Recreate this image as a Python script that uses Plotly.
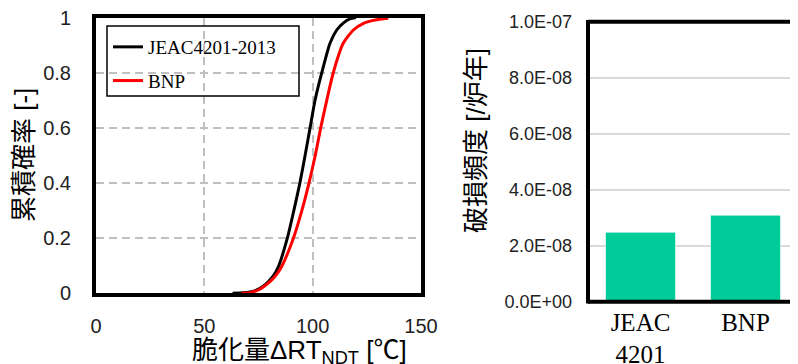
import plotly.graph_objects as go

# ---- data ----
jeac_x = [63, 68, 71, 74.2, 77, 79.5, 82, 84.2, 88.3, 91.3, 94.1, 96.5, 98.8, 101.1, 104.2, 108, 111.1, 114.1, 117.2, 120]
jeac_y = [0, 0.002, 0.005, 0.012, 0.025, 0.042, 0.065, 0.097, 0.2, 0.3, 0.4, 0.5, 0.6, 0.7, 0.8, 0.907, 0.955, 0.98, 0.995, 1.0]

bnp_x = [67.2, 71, 74.9, 77.5, 80.3, 83, 85.7, 91.1, 95.0, 98.3, 101.2, 103.7, 106.5, 109.5, 114.1, 118.8, 123.7, 128, 131.5, 134.9]
bnp_y = [0, 0.002, 0.012, 0.025, 0.042, 0.065, 0.097, 0.2, 0.3, 0.4, 0.5, 0.6, 0.7, 0.8, 0.907, 0.955, 0.98, 0.99, 0.995, 0.998]

series_names = ["JEAC4201-2013", "BNP"]

bar_categories = ["JEAC<br>4201", "BNP"]
bar_values = [2.48e-8, 3.09e-8]

left_x_ticks = [0, 50, 100, 150]
left_y_ticks = [0, 0.2, 0.4, 0.6, 0.8, 1]
left_y_ticktext = ["0", "0.2", "0.4", "0.6", "0.8", "1"]
right_y_ticks = [0, 2e-8, 4e-8, 6e-8, 8e-8, 1e-7]
right_y_ticktext = ["0.0E+00", "2.0E-08", "4.0E-08", "6.0E-08", "8.0E-08", "1.0E-07"]

SANS = "Liberation Sans, Arial, sans-serif"
SERIF = "Liberation Serif, Times New Roman, serif"
CJK = "Liberation Sans, Noto Sans CJK JP, sans-serif"

# page body has an 8px margin: figure is placed at (8, 8) in the window
OX, OY = 8, 8
W, H = 798 - OX, 364 - OY


def px(x):
    return (x - OX) / W


def py(y):
    return (364 - y) / H


fig = go.Figure()
fig.add_trace(go.Scatter(x=jeac_x, y=jeac_y, mode="lines", name=series_names[0],
                         line=dict(color="#000000", width=3, shape="spline", smoothing=0.6),
                         xaxis="x", yaxis="y", legendgroup="a"))
fig.add_trace(go.Scatter(x=bnp_x, y=bnp_y, mode="lines", name=series_names[1],
                         line=dict(color="#ff0000", width=3, shape="spline", smoothing=0.6),
                         xaxis="x", yaxis="y", legendgroup="b"))
fig.add_trace(go.Bar(x=bar_categories, y=bar_values,
                     marker=dict(color="#00CC99", line=dict(color="rgba(255,255,255,0.6)", width=1)),
                     xaxis="x2", yaxis="y2", showlegend=False, width=0.667))

fig.update_layout(
    width=W, height=H,
    margin=dict(l=0, r=0, t=0, b=0, autoexpand=False),
    paper_bgcolor="white", plot_bgcolor="white",
    showlegend=True,
    legend=dict(x=px(108), y=py(28), xanchor="left", yanchor="top",
                font=dict(family=SERIF, size=19, color="#000"),
                bgcolor="rgba(0,0,0,0)", borderwidth=0, tracegroupgap=6),
    xaxis=dict(domain=[px(96), px(421)], range=[0, 150], tickvals=left_x_ticks,
               showgrid=True, gridcolor="#c0c0c0", gridwidth=2, griddash="8px,5px",
               showline=True, linecolor="#000", linewidth=4, mirror=True,
               ticks="", ticklabelstandoff=12, zeroline=False, automargin=False,
               ticklabeloverflow="allow",
               tickfont=dict(family=SANS, size=20, color="#222"), anchor="y"),
    yaxis=dict(domain=[py(293.3), py(17.6)], range=[0, 1],
               tickvals=left_y_ticks, ticktext=left_y_ticktext,
               showgrid=True, gridcolor="#c0c0c0", gridwidth=2, griddash="8px,5px",
               showline=True, linecolor="#000", linewidth=4, mirror=True,
               ticks="", ticklabelstandoff=17, zeroline=False, automargin=False,
               ticklabeloverflow="allow",
               tickfont=dict(family=SANS, size=20, color="#222"), anchor="x"),
    xaxis2=dict(domain=[px(588), 1.0], range=[-0.5, 1.5], anchor="y2",
                showline=False, showgrid=False, ticks="", ticklabelstandoff=3, automargin=False,
                ticklabeloverflow="allow",
                tickfont=dict(family=SERIF, size=25, color="#000")),
    yaxis2=dict(domain=[py(301.7), py(21.7)], range=[0, 1e-7], anchor="x2",
                tickvals=right_y_ticks, ticktext=right_y_ticktext,
                showgrid=True, gridcolor="#d9d9d9", gridwidth=2, zeroline=False,
                showline=False, ticks="", ticklabelstandoff=15, automargin=False,
                ticklabeloverflow="allow",
                tickfont=dict(family=SANS, size=18, color="#222")),
    bargap=0.333,
)

# frame of the right chart (left, bottom, top; the right edge lies at the window border)
fig.add_shape(type="line", xref="x2 domain", yref="y2 domain", x0=0, x1=0, y0=-0.006, y1=1.006,
              line=dict(color="#000", width=4))
fig.add_shape(type="line", xref="x2 domain", yref="y2 domain", x0=0, x1=1.02, y0=0, y1=0,
              line=dict(color="#000", width=4))
fig.add_shape(type="line", xref="x2 domain", yref="y2 domain", x0=0, x1=1.02, y0=1, y1=1,
              line=dict(color="#000", width=4))
# legend box
fig.add_shape(type="rect", xref="paper", yref="paper", x0=px(107), x1=px(299),
              y0=py(96), y1=py(26), line=dict(color="#000", width=1.5),
              fillcolor="rgba(0,0,0,0)")

fig.add_annotation(text="累積確率 [-]", x=px(24), y=py(155), xref="paper", yref="paper",
                   textangle=-90, showarrow=False, xanchor="center", yanchor="middle",
                   font=dict(family=CJK, size=26, color="#000"))
fig.add_annotation(text="脆化量ΔRT<sub>NDT</sub> [℃]", x=px(299), y=py(351), xref="paper", yref="paper",
                   showarrow=False, xanchor="center", yanchor="middle",
                   font=dict(family=CJK, size=26, color="#000"))
fig.add_annotation(text="破損頻度 [/炉年]", x=px(476), y=py(141), xref="paper", yref="paper",
                   textangle=-90, showarrow=False, xanchor="center", yanchor="middle",
                   font=dict(family=CJK, size=26, color="#000"))

fig.write_html("out.html")
